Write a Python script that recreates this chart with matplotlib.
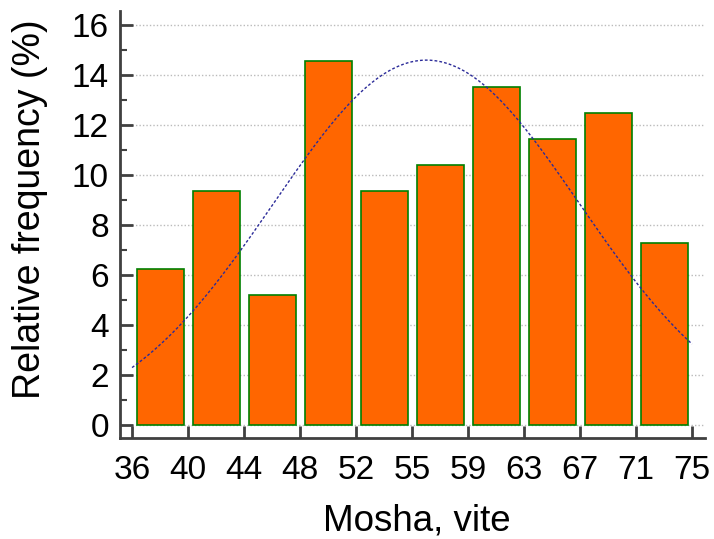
import numpy as np
import matplotlib
matplotlib.use("Agg")
import matplotlib.pyplot as plt

plt.rcParams['font.family'] = ['Liberation Sans', 'DejaVu Sans']

# Age class edges (years) and relative frequency per class (%)
bin_edges = [36.0, 39.9, 43.8, 47.7, 51.6, 55.5, 59.4, 63.3, 67.2, 71.1, 75.0]
edge_labels = ["36", "40", "44", "48", "52", "55", "59", "63", "67", "71", "75"]
rel_freq = [6.25, 9.375, 5.21, 14.58, 9.375, 10.42, 13.54, 11.46, 12.5, 7.29]

# Fitted normal curve parameters (years)
fit_mean = 56.5
fit_sd = 10.66

y_ticks = [0, 2, 4, 6, 8, 10, 12, 14, 16]

fig = plt.figure(figsize=(7.14, 5.39), dpi=100)
W, H = 714, 539
ax = fig.add_axes([120 / W, 1 - 438 / H, (705 - 120) / W, (438 - 11) / H])

edges = np.array(bin_edges)
width = np.diff(edges)
centers = edges[:-1] + width / 2

ax.bar(centers, rel_freq, width=width * 0.84, color="#FF6600",
       edgecolor="#008000", linewidth=1.2, zorder=3)

# Normal density scaled to percent per class width
xs = np.linspace(edges[0], edges[-1], 300)
bw = width.mean()
ys = 100 * bw / (fit_sd * np.sqrt(2 * np.pi)) * np.exp(-0.5 * ((xs - fit_mean) / fit_sd) ** 2)
ax.plot(xs, ys, color="#2B2B99", linestyle=(0, (2, 1.5)), linewidth=1.0, zorder=4)

# Horizontal dotted gridlines
ax.hlines(y_ticks, edges[0], 75.8, colors="#BBBBBB", linestyles=(0, (1, 1.5)),
          linewidth=1.0, zorder=1)

ax.set_xlim(35.16, 75.9)
ax.set_ylim(-0.52, 16.56)

ax.set_xticks(edges)
ax.set_xticklabels(edge_labels)
ax.set_yticks(y_ticks)
ax.set_yticks(np.arange(1, 16, 2), minor=True)

for s in ["top", "right"]:
    ax.spines[s].set_visible(False)
for s in ["left", "bottom"]:
    ax.spines[s].set_color("#404040")
    ax.spines[s].set_linewidth(2.0)

ax.tick_params(axis="x", which="major", direction="in", length=9, width=2,
               color="#404040", labelsize=24, pad=12)
ax.tick_params(axis="y", which="major", direction="in", length=9, width=2,
               color="#404040", labelsize=24, pad=8)
ax.tick_params(axis="y", which="minor", direction="in", length=5, width=1.5,
               color="#404040")

ax.set_xlabel("Mosha, vite", fontsize=26.5)
ax.set_ylabel("Relative frequency (%)", fontsize=27)
ax.xaxis.set_label_coords(0.508, -0.195)
ax.yaxis.set_label_coords(-0.154, 0.536)
ax.yaxis.label.set_verticalalignment("center")
ax.xaxis.label.set_verticalalignment("center")

fig.savefig("out.png", dpi=100)
